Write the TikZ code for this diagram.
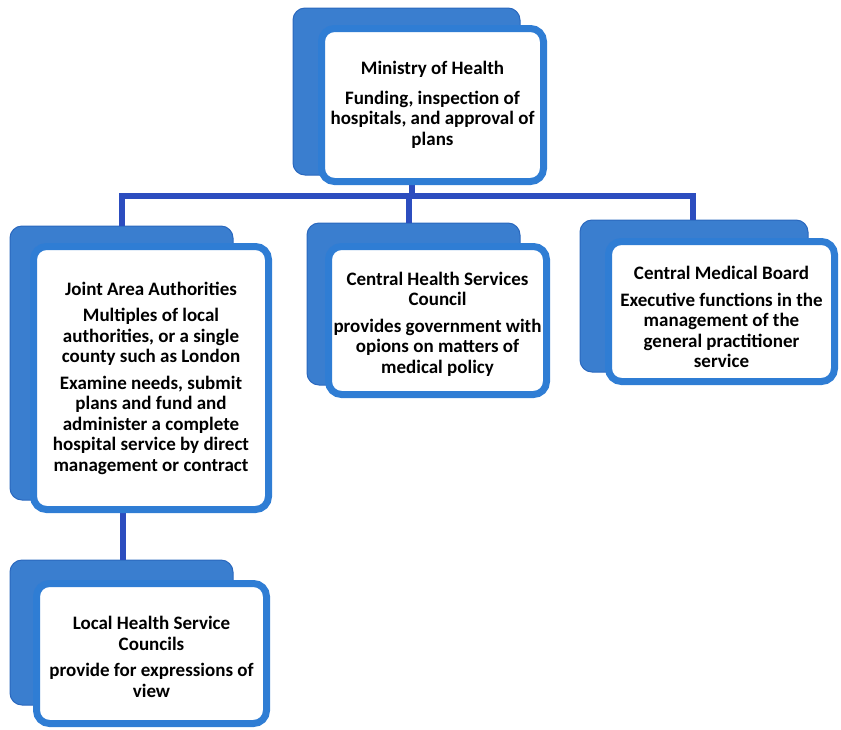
\documentclass[tikz,border=0pt]{standalone}
\usepackage{fontspec}
\setmainfont{Carlito}
\definecolor{backblue}{HTML}{3A7ECF}
\definecolor{backedge}{HTML}{2A68BE}
\definecolor{frontblue}{HTML}{2F7DD4}
\definecolor{connblue}{HTML}{2C4DBF}
\tikzset{
  backbox/.style={rectangle, rounded corners=12pt, fill=backblue, draw=backedge, line width=1pt, inner sep=0pt},
  frontbox/.style={rectangle, rounded corners=13pt, fill=white, draw=frontblue, line width=7pt, inner sep=0pt, align=center,
    font=\bfseries\fontsize{19}{20.5}\selectfont},
  conn/.style={draw=connblue, line width=6.5pt}
}
\newcommand{\topstrut}[1]{\rule{0pt}{#1}}
\begin{document}
\begin{tikzpicture}[x=1pt,y=-1pt]
\useasboundingbox (0,0) rectangle (841,729);
% back tabs
\node[backbox, minimum width=227pt, minimum height=167pt] (minb) at (406.5,91.5) {};
\node[backbox, minimum width=223pt, minimum height=274pt] (jaab) at (121.5,363) {};
\node[backbox, minimum width=213pt, minimum height=162pt] (chscb) at (413.5,304) {};
\node[backbox, minimum width=228pt, minimum height=152pt] (cmbb) at (694,296) {};
\node[backbox, minimum width=223pt, minimum height=145pt] (lhscb) at (121.5,632.5) {};
% connector coordinates
\coordinate (barL) at (122,196);
\coordinate (barM) at (409,196);
\coordinate (barR) at (693,196);
\coordinate (barT) at (412,196);
\coordinate (jaaDrop) at (123,513);
% connectors
\draw[conn] (jaab.north -| barL) -- (barL) -- (barR) -- (cmbb.north -| barR);
\draw[conn] (barM) -- (chscb.north -| barM);
\draw[conn] (barT |- minb.south) -- (barT);
\draw[conn] (jaaDrop) -- (lhscb.north -| jaaDrop);
% front boxes
\node[frontbox, minimum width=222pt, minimum height=153pt] (min) at (432.5,105)
  {Ministry of Health\\[9pt] Funding, inspection of\\ hospitals, and approval of\\ plans};
\node[frontbox, minimum width=235pt, minimum height=263pt] (jaa) at (151,378)
  {Joint Area Authorities\\[6pt] Multiples of local\\ authorities, or a single\\ county such as London\\[6pt]
   Examine needs, submit\\ plans and fund and\\ administer a complete\\ hospital service by direct\\ management or contract};
\node[frontbox, minimum width=218pt, minimum height=148pt] (chsc) at (437.5,320.5)
  {\topstrut{20pt}Central Health Services\\ Council\\[6pt] provides government with\\ opions on matters of\\ medical policy};
\node[frontbox, minimum width=226pt, minimum height=140pt] (cmb) at (721.5,311.5)
  {\topstrut{25pt}Central Medical Board\\[6pt] Executive functions in the\\ management of the\\ general practitioner\\ service};
\node[frontbox, minimum width=230pt, minimum height=140pt] (lhsc) at (151.5,653.5)
  {\topstrut{20pt}Local Health Service\\ Councils\\[6pt] provide for expressions of\\ view};
\end{tikzpicture}
\end{document}
